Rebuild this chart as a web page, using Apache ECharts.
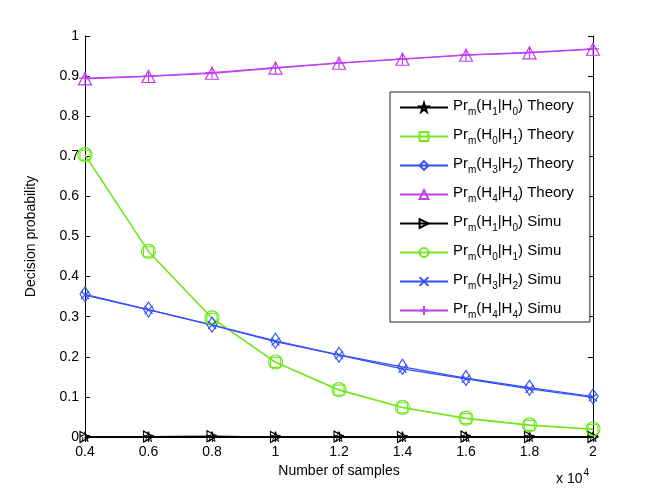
<!DOCTYPE html>
<html>
<head>
<meta charset="utf-8">
<script src="https://cdn.jsdelivr.net/npm/echarts@6/dist/echarts.min.js"></script>
<style>
  html, body { margin: 0; padding: 0; background: #fff; }
  #chart { width: 654px; height: 492px; }
</style>
</head>
<body>
<div id="chart"></div>
<script>
// samples (x 10^4)
var samples = [0.4, 0.6, 0.8, 1.0, 1.2, 1.4, 1.6, 1.8, 2.0];

// theory
var h1h0Theory = [0.001, 0.001, 0.001, 0.001, 0.001, 0.001, 0.001, 0.001, 0.001];
var h0h1Theory = [0.703, 0.462, 0.296, 0.186, 0.117, 0.073, 0.046, 0.029, 0.019];
var h3h2Theory = [0.356, 0.318, 0.280, 0.240, 0.205, 0.175, 0.147, 0.123, 0.101];
var h4h4Theory = [0.893, 0.899, 0.907, 0.920, 0.932, 0.942, 0.952, 0.958, 0.967];

// simulation
var h1h0Simu = [0.000, 0.001, 0.002, 0.000, 0.001, 0.000, 0.001, 0.000, 0.000];
var h0h1Simu = [0.704, 0.463, 0.297, 0.187, 0.118, 0.074, 0.047, 0.030, 0.020];
var h3h2Simu = [0.354, 0.317, 0.279, 0.238, 0.204, 0.170, 0.145, 0.120, 0.099];
var h4h4Simu = [0.895, 0.900, 0.909, 0.921, 0.933, 0.943, 0.953, 0.959, 0.968];

var BLACK = '#000000', GREEN = '#70e81c', BLUE = '#3350ff', MAGENTA = '#c040f0';

var STAR = 'path://M50,0L61.8,35.5L99,35.5L69,57.6L80.4,93.1L50,71.1L19.6,93.1L31,57.6L1,35.5L38.2,35.5Z';
var TRI_RIGHT = 'path://M0,0L10,5L0,10Z';
var CROSS = 'path://M0,0L10,10M10,0L0,10';
var PLUS = 'path://M5,0L5,10M0,5L10,5';

function pairs(ys) {
  return samples.map(function (x, i) { return [x, ys[i]]; });
}

function legendName(a, b, kind) {
  return '{n|Pr}{s|m}{n|(H}{s|' + a + '}{n||H}{s|' + b + '}{n|) ' + kind + '}';
}

function mk(name, ys, color, symbol, size, bw) {
  return {
    name: name,
    type: 'line',
    data: pairs(ys),
    symbol: symbol,
    symbolSize: size,
    showSymbol: true,
    animation: false,
    lineStyle: { color: color, width: 1.2 },
    itemStyle: { color: 'rgba(255,255,255,0)', borderColor: color, borderWidth: bw || 1.2 },
    emphasis: { disabled: true }
  };
}

var series = [
  mk('t10', h1h0Theory, BLACK, STAR, 10, 0.9),
  mk('t01', h0h1Theory, GREEN, 'rect', 10),
  mk('t32', h3h2Theory, BLUE, 'diamond', [10, 15]),
  mk('t44', h4h4Theory, MAGENTA, 'triangle', [13, 12]),
  mk('s10', h1h0Simu, BLACK, TRI_RIGHT, [10, 11]),
  mk('s01', h0h1Simu, GREEN, 'circle', 14),
  mk('s32', h3h2Simu, BLUE, CROSS, 8),
  mk('s44', h4h4Simu, MAGENTA, PLUS, 12)
];

var names = {
  t10: legendName(1, 0, 'Theory'),
  t01: legendName(0, 1, 'Theory'),
  t32: legendName(3, 2, 'Theory'),
  t44: legendName(4, 4, 'Theory'),
  s10: legendName(1, 0, 'Simu'),
  s01: legendName(0, 1, 'Simu'),
  s32: legendName(3, 2, 'Simu'),
  s44: legendName(4, 4, 'Simu')
};

var fontFam = 'Liberation Sans, Arial, sans-serif';
var tickFmt = function (v) { return String(+v.toFixed(1)); };

var chart = echarts.init(document.getElementById('chart'));
chart.setOption({
  backgroundColor: '#fff',
  animation: false,
  textStyle: { fontFamily: fontFam },
  grid: { left: 85, right: 61, top: 36, bottom: 55, containLabel: false },
  xAxis: [{
    type: 'value', min: 0.4, max: 2, interval: 0.2,
    name: 'Number of samples', nameLocation: 'middle', nameGap: 19,
    nameTextStyle: { color: '#000', fontSize: 14, fontFamily: fontFam },
    axisLine: { lineStyle: { color: '#000', width: 1 } },
    axisTick: { inside: true, length: 5, lineStyle: { color: '#000' } },
    axisLabel: { color: '#000', fontSize: 14, margin: 8, formatter: tickFmt },
    splitLine: { show: false }
  }, {
    type: 'value', position: 'top', min: 0.4, max: 2, interval: 0.2,
    axisLine: { show: true, lineStyle: { color: '#000', width: 1 } },
    axisTick: { inside: true, length: 5, lineStyle: { color: '#000' } },
    axisLabel: { show: false },
    splitLine: { show: false }
  }],
  yAxis: [{
    type: 'value', min: 0, max: 1, interval: 0.1,
    name: 'Decision probability', nameLocation: 'middle', nameGap: 47,
    nameTextStyle: { color: '#000', fontSize: 14, fontFamily: fontFam },
    axisLine: { show: true, lineStyle: { color: '#000', width: 1 } },
    axisTick: { show: true, inside: true, length: 5, lineStyle: { color: '#000' } },
    axisLabel: { color: '#000', fontSize: 14, margin: 6, formatter: tickFmt },
    splitLine: { show: false }
  }, {
    type: 'value', position: 'right', min: 0, max: 1, interval: 0.1,
    axisLine: { show: true, lineStyle: { color: '#000', width: 1 } },
    axisTick: { show: true, inside: true, length: 5, lineStyle: { color: '#000' } },
    axisLabel: { show: false },
    splitLine: { show: false }
  }],
  legend: {
    orient: 'vertical',
    left: 390, top: 92,
    itemWidth: 48, itemHeight: 11, itemGap: 10,
    padding: [6, 16, 2, 9],
    borderColor: '#222', borderWidth: 1, backgroundColor: '#fff',
    selectedMode: false,
    formatter: function (n) { return names[n]; },
    textStyle: {
      color: '#000',
      rich: {
        n: { fontSize: 15, fontFamily: fontFam, lineHeight: 18, verticalAlign: 'top', color: '#000' },
        s: { fontSize: 10, fontFamily: fontFam, lineHeight: 11, padding: [9, 0, 0, 0], color: '#000' }
      }
    },
    data: ['t10', 't01', 't32', 't44', 's10', 's01', 's32', 's44']
  },
  graphic: [{
    type: 'text', left: 556, top: 468,
    style: {
      text: '{n|x 10}{p|4}',
      rich: {
        n: { fontSize: 14, fontFamily: fontFam, fill: '#000', verticalAlign: 'bottom', lineHeight: 17 },
        p: { fontSize: 10, fontFamily: fontFam, fill: '#000', lineHeight: 11, padding: [0, 0, 9, 1] }
      }
    }
  }],
  series: series
});
</script>
</body>
</html>
